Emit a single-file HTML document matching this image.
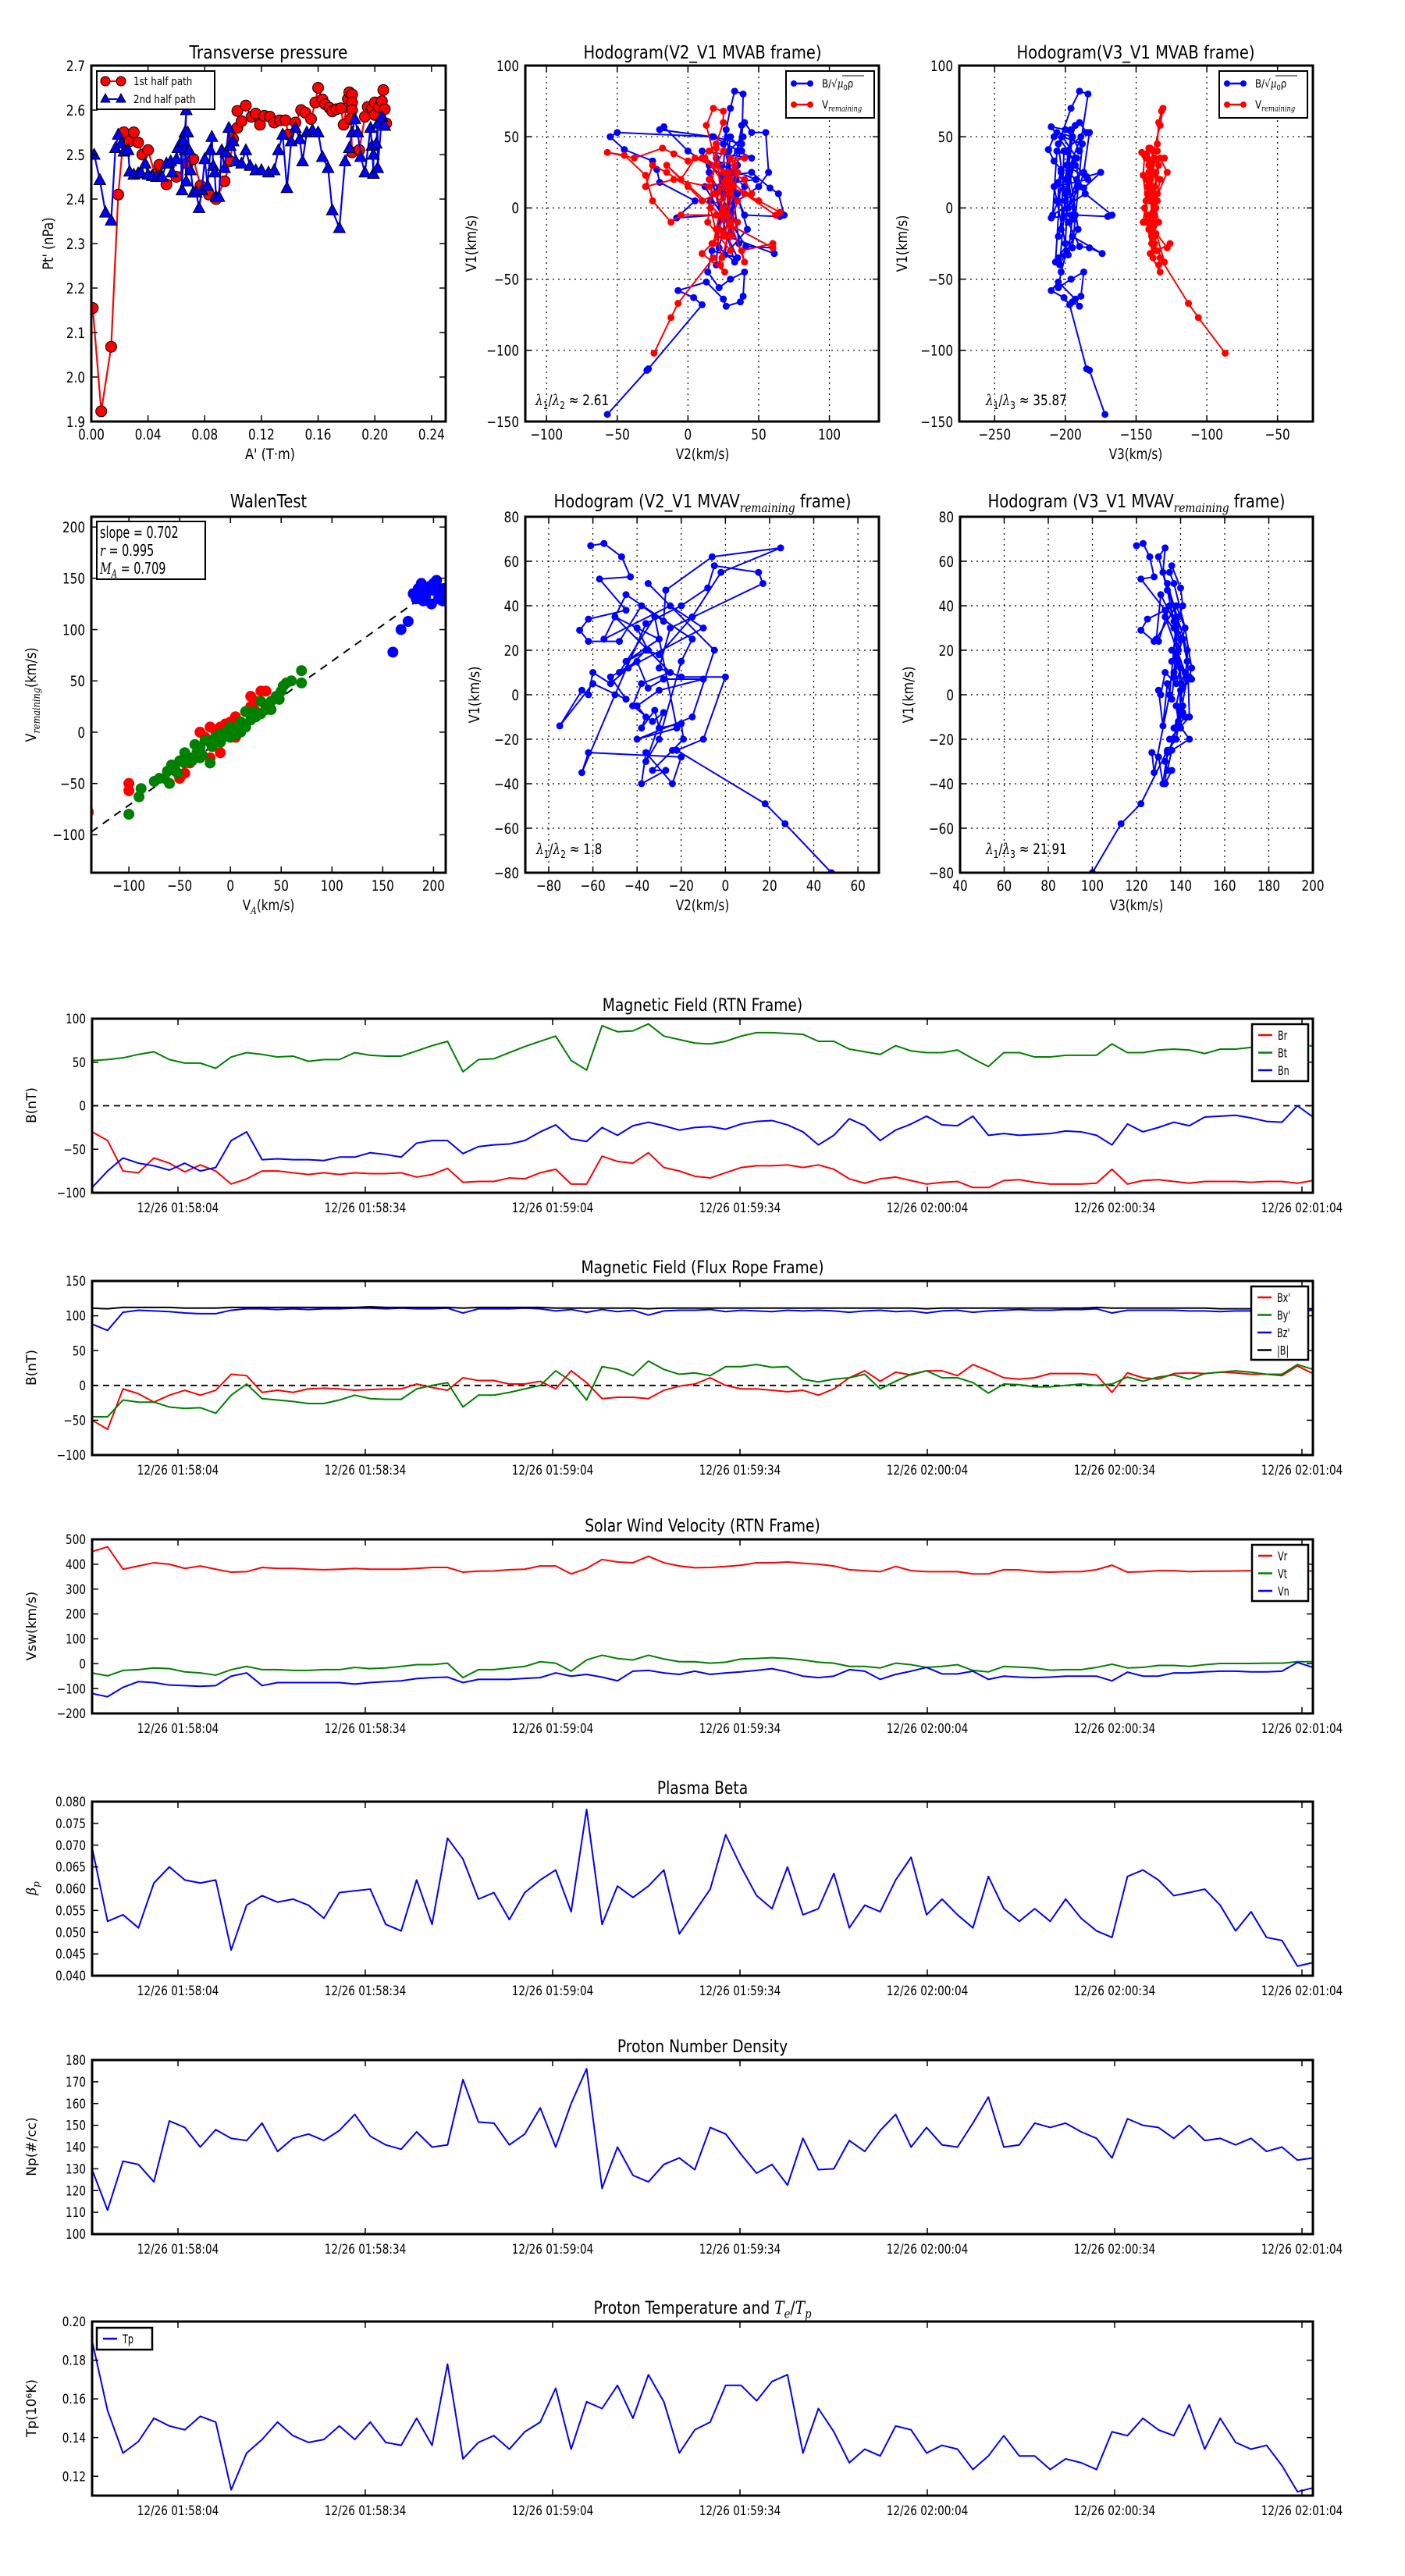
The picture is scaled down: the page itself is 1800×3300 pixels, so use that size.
<!DOCTYPE html>
<html>
<head>
<meta charset="utf-8">
<style>
html,body{margin:0;padding:0;background:#fff;}
svg{display:block;}
</style>
</head>
<body>
<svg id="fig" xmlns="http://www.w3.org/2000/svg" width="1800" height="3300" viewBox="0 0 1800 3300">
<rect x="0" y="0" width="1800" height="3300" fill="#fff"/>
</svg>
<script>
// ===== Transverse pressure data =====
const tpRedA = [0.001,0.007,0.014,0.019,0.023,0.027,0.030,0.033,0.036,0.040,0.045,0.048,0.053,0.060,0.068,0.072,0.077,0.083,0.088,0.094,0.098,0.100,0.103,0.106,0.103,0.109,0.113,0.116,0.119,0.122,0.126,0.129,0.133,0.137,0.139,0.144,0.148,0.151,0.155,0.158,0.160,0.163,0.165,0.168,0.170,0.173,0.176,0.178,0.181,0.182,0.184,0.184,0.184,0.183,0.184,0.189,0.193,0.195,0.198,0.200,0.200,0.203,0.205,0.206,0.207,0.208];
const tpRedP = [2.155,1.923,2.068,2.41,2.55,2.53,2.55,2.527,2.50,2.51,2.455,2.477,2.433,2.45,2.48,2.49,2.43,2.41,2.40,2.44,2.485,2.535,2.56,2.575,2.598,2.61,2.585,2.592,2.567,2.587,2.585,2.572,2.577,2.577,2.545,2.572,2.60,2.594,2.58,2.617,2.65,2.624,2.613,2.605,2.597,2.602,2.604,2.567,2.625,2.64,2.635,2.617,2.60,2.58,2.505,2.51,2.585,2.607,2.604,2.617,2.589,2.607,2.62,2.645,2.602,2.57];
const tpBlueA = [0.002,0.006,0.010,0.014,0.017,0.019,0.021,0.023,0.026,0.027,0.030,0.033,0.035,0.038,0.040,0.043,0.046,0.049,0.050,0.053,0.056,0.057,0.060,0.061,0.063,0.064,0.065,0.066,0.067,0.066,0.067,0.068,0.069,0.070,0.072,0.074,0.076,0.078,0.080,0.082,0.084,0.085,0.086,0.087,0.088,0.090,0.092,0.094,0.095,0.097,0.098,0.100,0.102,0.106,0.109,0.112,0.116,0.120,0.125,0.129,0.132,0.135,0.138,0.141,0.144,0.147,0.149,0.152,0.156,0.160,0.163,0.167,0.170,0.175,0.179,0.182,0.184,0.186,0.188,0.190,0.193,0.197,0.198,0.199,0.199,0.201,0.202,0.202,0.205,0.207];
const tpBlueP = [2.50,2.443,2.37,2.352,2.515,2.545,2.525,2.507,2.51,2.462,2.455,2.458,2.46,2.48,2.455,2.452,2.45,2.452,2.45,2.48,2.485,2.46,2.49,2.515,2.527,2.42,2.53,2.55,2.60,2.51,2.44,2.55,2.51,2.465,2.415,2.415,2.38,2.42,2.49,2.43,2.51,2.54,2.475,2.46,2.405,2.405,2.51,2.47,2.505,2.56,2.52,2.53,2.485,2.48,2.51,2.475,2.465,2.465,2.46,2.465,2.51,2.545,2.425,2.53,2.56,2.535,2.485,2.55,2.555,2.55,2.495,2.47,2.375,2.335,2.485,2.515,2.55,2.58,2.55,2.495,2.46,2.56,2.52,2.457,2.50,2.525,2.57,2.47,2.585,2.565];

// ===== MVAB hodogram data =====
const mvabBlueV1 = [-145,-114,-113,-68,-63,-58,-52,-64,-69,-66,-62,-45,-50,-56,-45,-30,-35,-20,-32,-28,-27,-10,-5,-7,5,18,27,33,41,50,53,50,55,57,40,30,22,25,14,10,-5,-6,-5,20,40,58,60,53,53,25,15,5,45,70,82,80,40,50,10,30,-20,35,15,0,25,-38,-28,45,50,35,40,-5,10,25,-15,-40,55,-25,15,20,30,-8,5,50,40,-15,20,-33];
const mvabBlueV2 = [-57,-29,-28,10,4,-7,13,25,27,37,39,40,30,22,14,17,35,28,61,60,41,30,20,-8,5,-20,-22,-25,-45,-55,-50,17,-20,-17,0,15,25,45,58,64,68,65,40,30,35,38,40,45,55,57,50,35,25,30,33,39,38,30,25,35,30,20,40,28,15,33,22,38,18,45,10,25,35,30,42,20,27,36,12,48,24,31,16,39,29,21,34,26];
const mvabBlueV3 = [-172,-183,-185,-197,-201,-210,-205,-193,-190,-195,-189,-187,-196,-205,-203,-199,-205,-195,-174,-183,-190,-198,-196,-210,-205,-205,-203,-208,-212,-208,-206,-195,-200,-210,-198,-193,-185,-175,-187,-186,-167,-170,-193,-200,-198,-193,-190,-185,-183,-187,-190,-200,-205,-196,-190,-184,-190,-195,-200,-195,-205,-193,-190,-198,-203,-207,-195,-188,-202,-192,-206,-209,-186,-197,-191,-204,-196,-200,-208,-184,-199,-194,-206,-189,-201,-203,-192,-198];
const mvabRedV1 = [-102,-77,-67,-35,-40,-45,-32,-25,-18,-10,-38,-30,-25,-28,-12,-5,-5,-10,5,23,37,39,35,42,38,33,35,40,45,60,68,70,58,30,25,15,10,5,-3,-5,10,20,10,5,15,25,30,15,20,15,0,-10,-20,-15,-5,25,35,35,30,40,20,10,-15,-25,25,35,5,-35,0,15,-20,42,-10,-30,20,10,30,-5,30,20,35,20,10];
const mvabRedV2 = [-24,-12,-7,18,23,26,10,17,25,30,40,38,60,60,30,20,-5,-12,-25,-30,-45,-57,-38,-18,-10,0,10,15,20,25,25,18,13,20,25,30,40,50,65,62,40,30,20,10,0,-15,-25,-30,-10,15,25,35,30,20,28,35,30,40,20,25,15,30,22,18,28,12,35,24,16,32,26,20,14,30,27,19,33,23,-15,-5,5,40,45];
const mvabRedV3 = [-87,-106,-113,-133,-134,-133,-140,-137,-136,-138,-130,-135,-126,-128,-140,-142,-142,-145,-143,-145,-144,-146,-142,-140,-143,-138,-137,-135,-135,-134,-132,-131,-133,-140,-138,-140,-142,-140,-138,-137,-141,-143,-140,-138,-142,-141,-139,-142,-140,-137,-136,-134,-139,-140,-141,-128,-133,-130,-140,-138,-142,-137,-141,-139,-136,-143,-135,-138,-144,-139,-137,-141,-143,-136,-140,-142,-134,-139,-141,-140,-142,-133,-135];

// ===== Walen test data =====
const walenGreenVA = [-100,-90,-88,-75,-70,-60,-62,-55,-50,-45,-40,-35,-30,-25,-20,-20,-15,-10,-5,0,5,10,15,20,22,25,30,35,40,45,50,52,55,60,70,70,-65,-45,0,15,30,-30,-10,10,40,-52,-38,-28,-18,-8,2,12,25,35,48,-58,-33];
const walenGreenV = [-80,-63,-55,-48,-45,-50,-38,-35,-28,-20,-25,-12,-15,-8,-30,-10,-5,-2,0,5,-2,10,5,12,20,15,18,25,30,35,40,45,48,50,60,48,-45,-30,-5,20,30,-25,-10,0,22,-40,-28,-22,-14,-6,3,8,18,22,32,-32,-20];
const walenRedVA = [-140,-100,-100,-50,-45,-40,-35,-30,-30,-25,-20,-15,-10,-5,0,5,10,15,20,25,30,35,-20,-10,5,-45,20,25];
const walenRedV = [-78,-50,-57,-45,-40,-30,-25,-20,0,-5,5,2,5,8,10,15,5,20,25,20,40,40,-25,-20,-5,-25,35,30];
const walenBlueVA = [160,168,175,180,185,190,195,200,205,210,188,192,198,203,207,183,196,201,209,186];
const walenBlueV = [78,100,108,135,140,128,138,145,130,140,145,132,125,148,135,130,142,138,128,137];
const walenSlope = 0.702;
const walenIntercept = -1;

// ===== MVAV hodogram data =====
const mvavV1 = [67,68,62,53,52,38,34,29,24,24,40,33,47,62,66,55,35,18,20,12,5,10,0,2,-14,5,-2,8,15,3,7,7,2,-5,-10,-15,-7,-15,-13,-20,-25,-34,-34,-40,-26,-40,-28,-26,-35,0,32,40,48,58,55,50,30,12,8,8,-20,-25,-49,-58,-80];
const mvavV2 = [-61,-55,-47,-43,-57,-45,-62,-66,-62,-48,-38,-28,-27,-6,25,-2,-15,-30,-36,-44,-52,-60,-62,-65,-75,-60,-45,-52,-40,-35,-28,-10,-30,-40,-36,-38,-32,-30,-20,-19,-24,-33,-27,-38,-36,-24,-20,-62,-65,-50,-36,-20,-8,-5,15,17,-25,-30,-20,0,-10,-22,18,27,48];
const mvavV3 = [120,123,126,128,122,133,125,122,128,130,135,137,134,130,133,132,138,138,136,140,138,133,131,130,132,134,136,137,139,141,143,145,140,141,142,138,140,137,139,144,136,134,136,133,134,132,130,127,128,135,138,141,140,136,135,137,142,145,144,143,138,134,122,113,100];
const mvavExtraV1 = [30,20,15,25,35,10,5,-5,-12,-8,-30,-20,15,25,45,25,40,30,10,35,-15,-20,-10,20,50];
const mvavExtraV2 = [-40,-35,-45,-30,-50,-25,-38,-42,-33,-28,-36,-30,-20,-15,-45,-55,-25,-10,-48,-32,-22,-40,-15,-5,-35];
const mvavExtraV3 = [137,139,136,140,133,142,140,138,139,141,133,137,143,141,131,129,138,142,137,139,140,135,144,143,134];

// ===== Time series data (uniform sampling across the plotted interval) =====
const tsStart = -13.75;   // seconds relative to 12/26 01:58:04
const tsEnd = 181.75;
const timeTicks = [0,30,60,90,120,150,180];
const timeTickLabels = ['12/26 01:58:04','12/26 01:58:34','12/26 01:59:04','12/26 01:59:34','12/26 02:00:04','12/26 02:00:34','12/26 02:01:04'];

const Br = [-30,-40,-75,-77,-60,-66,-76,-68,-75,-90,-84,-75,-75,-77,-79,-77,-79,-77,-78,-78,-77,-82,-79,-72,-88,-87,-87,-83,-84,-77,-73,-90,-90,-58,-64,-66,-54,-71,-75,-81,-83,-77,-71,-69,-69,-68,-71,-68,-73,-84,-89,-84,-82,-86,-90,-88,-87,-94,-94,-86,-85,-88,-90,-90,-90,-89,-73,-90,-86,-85,-87,-89,-87,-87,-87,-88,-87,-87,-89,-86];
const Bt = [52,53,55,59,62,53,49,49,43,56,61,59,56,57,51,53,53,61,58,57,57,63,69,74,39,53,54,61,68,74,80,52,41,92,85,86,94,80,76,72,71,74,80,84,84,83,82,74,74,65,62,59,69,63,61,61,64,54,45,61,61,56,56,58,58,58,71,61,61,64,65,64,60,65,65,67,66,66,68,69];
const Bn = [-94,-75,-60,-66,-69,-74,-66,-75,-71,-40,-30,-62,-61,-62,-62,-63,-59,-59,-54,-56,-59,-43,-40,-40,-55,-47,-45,-44,-40,-30,-22,-38,-41,-25,-34,-23,-19,-23,-28,-25,-24,-27,-21,-18,-17,-22,-30,-45,-34,-15,-23,-40,-28,-21,-12,-22,-23,-12,-34,-32,-34,-33,-32,-29,-30,-34,-45,-21,-30,-25,-19,-23,-13,-12,-11,-14,-18,-19,0,-13];

const Bxp = [-50,-63,-5,-12,-24,-14,-7,-14,-7,16,14,-10,-7,-10,-5,-4,-5,-7,-6,-5,-5,2,-3,-7,11,7,7,2,2,6,-5,21,4,-19,-17,-17,-19,-7,-1,2,11,0,-5,-5,-7,-9,-7,-14,-5,11,21,6,19,15,21,21,14,30,21,11,9,11,17,17,17,15,-10,18,11,9,17,18,17,19,18,16,16,14,28,17];
const Byp = [-45,-45,-21,-24,-24,-31,-33,-32,-40,-14,2,-19,-21,-23,-26,-26,-21,-14,-19,-20,-20,-5,0,4,-31,-14,-14,-10,-5,0,21,6,-21,27,23,14,35,23,16,18,14,27,27,30,26,27,9,5,9,11,16,-5,6,16,21,11,11,4,-11,2,1,-2,-2,0,2,0,2,12,6,12,15,9,17,19,21,19,16,16,30,23];
const Bzp = [88,79,105,108,107,106,104,103,103,108,110,110,109,110,109,110,110,111,111,110,111,110,110,111,104,110,110,110,111,110,107,109,105,109,106,108,101,107,108,108,109,106,108,107,106,108,107,108,107,105,107,108,106,107,104,107,108,105,107,108,109,108,108,109,109,110,104,108,108,108,108,107,107,106,107,107,107,107,107,108];
const Bmag = [111,110,112,112,112,112,111,111,111,112,112,112,112,112,112,112,112,112,113,112,112,112,112,112,111,112,112,112,112,112,111,111,111,111,111,111,110,111,111,111,111,111,111,111,111,111,111,111,111,111,111,111,111,111,110,111,111,111,111,111,111,111,111,111,111,112,111,111,111,111,111,111,111,110,110,110,110,110,110,110];

const Vr = [451,470,380,393,406,400,383,393,380,368,370,387,383,383,380,378,380,383,380,380,380,383,387,387,368,372,373,378,380,393,393,361,383,419,409,406,432,406,393,386,387,391,396,406,406,409,404,400,393,378,374,370,391,374,370,370,370,361,361,378,377,370,368,370,370,378,396,368,370,374,374,370,372,372,373,374,374,374,373,373];
const Vt = [-37,-49,-27,-24,-17,-20,-33,-37,-46,-24,-11,-24,-24,-27,-27,-24,-24,-15,-20,-17,-11,-4,-4,2,-56,-24,-24,-17,-11,8,2,-30,15,34,21,15,34,19,8,8,2,6,19,21,24,21,15,6,2,-11,-11,-17,2,-4,-15,-11,-4,-27,-33,-11,-14,-17,-26,-24,-24,-15,-2,-17,-15,-7,-7,-11,-4,1,1,1,2,2,8,8];
const Vn = [-120,-133,-95,-72,-76,-86,-88,-91,-88,-50,-37,-88,-76,-76,-76,-76,-76,-82,-76,-72,-69,-60,-56,-54,-76,-63,-63,-63,-59,-56,-37,-50,-43,-54,-69,-30,-27,-37,-43,-30,-43,-37,-33,-27,-20,-33,-50,-56,-50,-24,-30,-63,-43,-30,-15,-41,-41,-30,-63,-50,-54,-56,-54,-50,-50,-50,-69,-34,-50,-50,-37,-37,-33,-30,-30,-33,-33,-30,5,-15];

const beta = [0.0694,0.0525,0.054,0.051,0.0613,0.065,0.062,0.0613,0.062,0.0459,0.0562,0.0584,0.0569,0.0576,0.0562,0.0532,0.0591,0.0595,0.0599,0.0518,0.0503,0.062,0.0518,0.0716,0.0668,0.0576,0.0591,0.0529,0.0591,0.062,0.0643,0.0547,0.0782,0.0518,0.0606,0.058,0.0606,0.0643,0.0496,0.0547,0.0599,0.0724,0.065,0.0584,0.0554,0.065,0.054,0.0554,0.0635,0.051,0.0562,0.0547,0.062,0.0672,0.054,0.0576,0.054,0.051,0.0628,0.0554,0.0525,0.0554,0.0525,0.0576,0.0532,0.0503,0.0488,0.0628,0.0643,0.062,0.0584,0.0591,0.0599,0.0562,0.0503,0.0547,0.0488,0.0481,0.0422,0.043];
const Np = [129.6,111,133.5,132,124,152,149,140,148,144,143,151,138,144,146,143,147.6,155,145,141,139,147,140,141,171,151.5,151,141,146,158,140,160,176,121,140,127,124,132,135,129.6,149,146,136.6,128,132,122.5,144,129.6,130,143,138,147.6,155,140,149,141,140,151,163,140,141,151,149,151,147,144,135,153,150,149,144,150,143,144,141,144,138,140,134,135];
const Tp = [0.190,0.154,0.132,0.138,0.150,0.146,0.144,0.151,0.148,0.113,0.132,0.139,0.148,0.141,0.1375,0.139,0.146,0.139,0.148,0.1375,0.136,0.150,0.136,0.178,0.129,0.1375,0.141,0.134,0.143,0.148,0.1655,0.134,0.1585,0.155,0.167,0.150,0.1725,0.1585,0.132,0.144,0.148,0.167,0.167,0.159,0.169,0.1725,0.132,0.155,0.143,0.127,0.134,0.1305,0.146,0.144,0.132,0.136,0.134,0.1235,0.1305,0.141,0.1305,0.1305,0.1235,0.129,0.127,0.1235,0.143,0.141,0.150,0.144,0.141,0.157,0.134,0.150,0.1375,0.134,0.136,0.1255,0.112,0.114];

// ===== helpers =====
const NS = 'http://www.w3.org/2000/svg';
const svg = document.getElementById('fig');
const FONT = '"DejaVu Sans", "Liberation Sans", sans-serif';
let clipId = 0;

function mk(parent, tag, attrs, name) {
  const el = document.createElementNS(NS, tag);
  for (const k in attrs) el.setAttribute(k, attrs[k]);
  
  
  parent.appendChild(el);
  return el;
}

function text(parent, x, y, content, o) {
  const size = o.size || 18;
  const sx = o.sx || 0.85;
  const tr = 'translate(' + x + ',' + y + ')' + (o.rot ? ' rotate(' + o.rot + ')' : '') + ' scale(' + sx + ',1)';
  const el = mk(parent, 'text', {transform: tr, 'font-size': size, 'text-anchor': o.anchor || 'start', 'font-family': FONT, fill: '#000'}, o.name);
  if (typeof content === 'string') {
    el.textContent = content;
  } else {
    content.forEach(function(seg) {
      const ts = document.createElementNS(NS, 'tspan');
      ts.textContent = seg[0];
      const st = seg[1] || '';
      if (st.indexOf('it') >= 0) { ts.setAttribute('font-style', 'italic'); ts.setAttribute('font-family', '"DejaVu Serif","Liberation Serif",serif'); }
      if (st.indexOf('sub') >= 0) { ts.setAttribute('font-size', size * 0.7); ts.setAttribute('dy', size * 0.25); }
      if (st === 'up') { ts.setAttribute('dy', -size * 0.25); }
      if (st === 'itup') { ts.setAttribute('dy', -size * 0.25); }
      el.appendChild(ts);
    });
  }
  return el;
}

function axes(name, box, xlim, ylim, xt, xtl, yt, ytl, opt) {
  const g = mk(svg, 'g', {}, name);
  const L = box.x, T = box.y, W = box.w, H = box.h;
  const X = function(v) { return L + (v - xlim[0]) / (xlim[1] - xlim[0]) * W; };
  const Y = function(v) { return T + H - (v - ylim[0]) / (ylim[1] - ylim[0]) * H; };
  const fs = opt.tickSize || 19;
  const tsx = opt.tickSx || 0.8;
  if (opt.grid) {
    xt.forEach(function(v) {
      mk(g, 'line', {x1: X(v), x2: X(v), y1: T, y2: T + H, stroke: '#000', 'stroke-width': 1.2, 'stroke-dasharray': '2,5'}, 'x-grid-line');
    });
    yt.forEach(function(v) {
      mk(g, 'line', {x1: L, x2: L + W, y1: Y(v), y2: Y(v), stroke: '#000', 'stroke-width': 1.2, 'stroke-dasharray': '2,5'}, 'y-grid-line');
    });
  }
  const cid = 'clip' + (clipId++);
  const cp = mk(g, 'clipPath', {id: cid}, 'plot-clip');
  mk(cp, 'rect', {x: L, y: T, width: W, height: H}, 'plot-clip-rect');
  const data = mk(g, 'g', {'clip-path': 'url(#' + cid + ')'}, 'plot-area');
  xt.forEach(function(v, i) {
    mk(g, 'line', {x1: X(v), x2: X(v), y1: T + H, y2: T + H - 8, stroke: '#000', 'stroke-width': 1.5}, 'x-tick');
    mk(g, 'line', {x1: X(v), x2: X(v), y1: T, y2: T + 8, stroke: '#000', 'stroke-width': 1.5}, 'x-tick-top');
    text(g, X(v), T + H + (opt.xGap || 23), xtl[i], {size: fs, sx: tsx, anchor: 'middle', name: 'x-tick-label'});
  });
  yt.forEach(function(v, i) {
    mk(g, 'line', {x1: L, x2: L + 8, y1: Y(v), y2: Y(v), stroke: '#000', 'stroke-width': 1.5}, 'y-tick');
    mk(g, 'line', {x1: L + W, x2: L + W - 8, y1: Y(v), y2: Y(v), stroke: '#000', 'stroke-width': 1.5}, 'y-tick-right');
    text(g, L - 8, Y(v) + fs * 0.36, ytl[i], {size: fs, sx: tsx, anchor: 'end', name: 'y-tick-label'});
  });
  return {g: g, data: data, X: X, Y: Y, L: L, T: T, W: W, H: H};
}
function spine(ax) {
  mk(ax.g, 'rect', {x: ax.L, y: ax.T, width: ax.W, height: ax.H, fill: 'none', stroke: '#000', 'stroke-width': 3}, 'axes-frame');
}
function polyline(parent, xs, ys, ax, color, w, name) {
  let pts = '';
  for (let i = 0; i < xs.length; i++) pts += ax.X(xs[i]).toFixed(2) + ',' + ax.Y(ys[i]).toFixed(2) + ' ';
  return mk(parent, 'polyline', {points: pts, fill: 'none', stroke: color, 'stroke-width': w, 'stroke-linejoin': 'round'}, name);
}
function dots(parent, xs, ys, ax, color, r, name) {
  for (let i = 0; i < xs.length; i++) {
    mk(parent, 'circle', {cx: ax.X(xs[i]), cy: ax.Y(ys[i]), r: r, fill: color, stroke: 'none'}, name);
  }
}

// ===== Panel 1: Transverse pressure =====
(function() {
  const ax = axes('transverse-pressure-chart', {x: 117, y: 84, w: 454, h: 456}, [0, 0.25], [1.9, 2.7],
    [0,0.04,0.08,0.12,0.16,0.20,0.24], ['0.00','0.04','0.08','0.12','0.16','0.20','0.24'],
    [1.9,2.0,2.1,2.2,2.3,2.4,2.5,2.6,2.7], ['1.9','2.0','2.1','2.2','2.3','2.4','2.5','2.6','2.7'], {});
  polyline(ax.data, tpRedA, tpRedP, ax, '#ff0000', 2.2, 'first-half-line');
  for (let i = 0; i < tpRedA.length; i++) {
    mk(ax.data, 'circle', {cx: ax.X(tpRedA[i]), cy: ax.Y(tpRedP[i]), r: 7, fill: '#ff0000', stroke: '#000', 'stroke-width': 1}, 'first-half-marker');
  }
  polyline(ax.data, tpBlueA, tpBlueP, ax, '#0000ff', 2.2, 'second-half-line');
  for (let i = 0; i < tpBlueA.length; i++) {
    const cx = ax.X(tpBlueA[i]), cy = ax.Y(tpBlueP[i]);
    mk(ax.data, 'polygon', {points: cx + ',' + (cy - 8) + ' ' + (cx - 7.5) + ',' + (cy + 6) + ' ' + (cx + 7.5) + ',' + (cy + 6), fill: '#0000ff', stroke: '#000', 'stroke-width': 1}, 'second-half-marker');
  }
  spine(ax);
  text(svg, 344, 75, 'Transverse pressure', {size: 23, sx: 0.88, anchor: 'middle', name: 'transverse-pressure-title'});
  text(svg, 346, 588, "A' (T·m)", {size: 19, sx: 0.85, anchor: 'middle', name: 'x-axis-title'});
  text(svg, 68, 312, "Pt' (nPa)", {size: 19, sx: 0.85, anchor: 'middle', rot: -90, name: 'y-axis-title'});
  const lg = mk(svg, 'g', {}, 'legend');
  mk(lg, 'rect', {x: 124, y: 91, width: 151, height: 49, fill: '#fff', stroke: '#000', 'stroke-width': 2}, 'legend-box');
  mk(lg, 'line', {x1: 135, x2: 155, y1: 104, y2: 104, stroke: '#ff0000', 'stroke-width': 2}, 'legend-line');
  mk(lg, 'circle', {cx: 135, cy: 104, r: 6, fill: '#ff0000', stroke: '#000'}, 'legend-marker');
  mk(lg, 'circle', {cx: 155, cy: 104, r: 6, fill: '#ff0000', stroke: '#000'}, 'legend-marker');
  text(lg, 171, 109, '1st half path', {size: 14, sx: 0.85, name: 'legend-entry'});
  mk(lg, 'line', {x1: 135, x2: 155, y1: 127, y2: 127, stroke: '#0000ff', 'stroke-width': 2}, 'legend-line');
  mk(lg, 'polygon', {points: '135,120 129,131 141,131', fill: '#0000ff', stroke: '#000'}, 'legend-marker');
  mk(lg, 'polygon', {points: '155,120 149,131 161,131', fill: '#0000ff', stroke: '#000'}, 'legend-marker');
  text(lg, 171, 132, '2nd half path', {size: 14, sx: 0.85, name: 'legend-entry'});
})();

function hodoLegend(x0, name) {
  const lg = mk(svg, 'g', {}, name);
  mk(lg, 'rect', {x: x0, y: 91, width: 113, height: 60, fill: '#fff', stroke: '#000', 'stroke-width': 2}, 'legend-box');
  mk(lg, 'line', {x1: x0 + 10, x2: x0 + 31, y1: 107, y2: 107, stroke: '#0000ff', 'stroke-width': 2.5}, 'legend-line');
  mk(lg, 'circle', {cx: x0 + 10, cy: 107, r: 4, fill: '#0000ff'}, 'legend-marker');
  mk(lg, 'circle', {cx: x0 + 31, cy: 107, r: 4, fill: '#0000ff'}, 'legend-marker');
  text(lg, x0 + 46, 112, [['B/√', ''], ['μ', 'it'], ['0', 'sub'], ['ρ', 'up']], {size: 14, sx: 0.85, name: 'legend-entry'});
  mk(lg, 'line', {x1: x0 + 72, x2: x0 + 100, y1: 97, y2: 97, stroke: '#000', 'stroke-width': 1}, 'sqrt-bar');
  mk(lg, 'line', {x1: x0 + 10, x2: x0 + 31, y1: 134, y2: 134, stroke: '#ff0000', 'stroke-width': 2.5}, 'legend-line');
  mk(lg, 'circle', {cx: x0 + 10, cy: 134, r: 4, fill: '#ff0000'}, 'legend-marker');
  mk(lg, 'circle', {cx: x0 + 31, cy: 134, r: 4, fill: '#ff0000'}, 'legend-marker');
  text(lg, x0 + 46, 139, [['V', ''], ['remaining', 'itsub']], {size: 14, sx: 0.85, name: 'legend-entry'});
}

// ===== Panel 2: Hodogram V2_V1 MVAB =====
(function() {
  const ax = axes('hodogram-v2-v1-mvab', {x: 673, y: 84, w: 453, h: 456}, [-115, 135], [-150, 100],
    [-100,-50,0,50,100], ['−100','−50','0','50','100'],
    [-150,-100,-50,0,50,100], ['−150','−100','−50','0','50','100'], {grid: true});
  polyline(ax.data, mvabBlueV2, mvabBlueV1, ax, '#0000ff', 2, 'b-alfven-path');
  dots(ax.data, mvabBlueV2, mvabBlueV1, ax, '#0000ff', 4.5, 'b-alfven-point');
  polyline(ax.data, mvabRedV2, mvabRedV1, ax, '#ff0000', 2, 'v-remaining-path');
  dots(ax.data, mvabRedV2, mvabRedV1, ax, '#ff0000', 4.5, 'v-remaining-point');
  spine(ax);
  text(svg, 900, 75, 'Hodogram(V2_V1 MVAB frame)', {size: 23, sx: 0.85, anchor: 'middle', name: 'hodogram-mvab-v2-title'});
  text(svg, 900, 588, 'V2(km/s)', {size: 19, sx: 0.8, anchor: 'middle', name: 'x-axis-title'});
  text(svg, 610, 312, 'V1(km/s)', {size: 19, sx: 0.85, anchor: 'middle', rot: -90, name: 'y-axis-title'});
  text(svg, 686, 519, [['λ', 'it'], ['1', 'sub'], ['/', 'up'], ['λ', 'it'], ['2', 'sub'], [' ≈ 2.61', 'up']], {size: 19, sx: 0.8, name: 'eigenvalue-ratio'});
  hodoLegend(1007, 'legend');
})();

// ===== Panel 3: Hodogram V3_V1 MVAB =====
(function() {
  const ax = axes('hodogram-v3-v1-mvab', {x: 1229, y: 84, w: 453, h: 456}, [-275, -25], [-150, 100],
    [-250,-200,-150,-100,-50], ['−250','−200','−150','−100','−50'],
    [-150,-100,-50,0,50,100], ['−150','−100','−50','0','50','100'], {grid: true});
  polyline(ax.data, mvabBlueV3, mvabBlueV1, ax, '#0000ff', 2, 'b-alfven-path');
  dots(ax.data, mvabBlueV3, mvabBlueV1, ax, '#0000ff', 4.5, 'b-alfven-point');
  polyline(ax.data, mvabRedV3, mvabRedV1, ax, '#ff0000', 2, 'v-remaining-path');
  dots(ax.data, mvabRedV3, mvabRedV1, ax, '#ff0000', 4.5, 'v-remaining-point');
  spine(ax);
  text(svg, 1455, 75, 'Hodogram(V3_V1 MVAB frame)', {size: 23, sx: 0.85, anchor: 'middle', name: 'hodogram-mvab-v3-title'});
  text(svg, 1455, 588, 'V3(km/s)', {size: 19, sx: 0.8, anchor: 'middle', name: 'x-axis-title'});
  text(svg, 1162, 312, 'V1(km/s)', {size: 19, sx: 0.85, anchor: 'middle', rot: -90, name: 'y-axis-title'});
  text(svg, 1263, 519, [['λ', 'it'], ['1', 'sub'], ['/', 'up'], ['λ', 'it'], ['3', 'sub'], [' ≈ 35.87', 'up']], {size: 19, sx: 0.8, name: 'eigenvalue-ratio'});
  hodoLegend(1562, 'legend');
})();

// ===== Panel 4: Walen test =====
(function() {
  const ax = axes('walen-test-chart', {x: 117, y: 662, w: 454, h: 456}, [-137, 212], [-137, 210],
    [-100,-50,0,50,100,150,200], ['−100','−50','0','50','100','150','200'],
    [-100,-50,0,50,100,150,200], ['−100','−50','0','50','100','150','200'], {});
  const xa = -137, xb = 212;
  mk(ax.data, 'line', {x1: ax.X(xa), y1: ax.Y(walenSlope * xa + walenIntercept), x2: ax.X(xb), y2: ax.Y(walenSlope * xb + walenIntercept), stroke: '#000', 'stroke-width': 2, 'stroke-dasharray': '10,8'}, 'fit-line');
  dots(ax.data, walenRedVA, walenRedV, ax, '#ff0000', 7, 'walen-red-point');
  dots(ax.data, walenGreenVA, walenGreenV, ax, '#008000', 7, 'walen-green-point');
  dots(ax.data, walenBlueVA, walenBlueV, ax, '#0000ff', 7, 'walen-blue-point');
  spine(ax);
  const box = mk(svg, 'g', {}, 'fit-statistics-box');
  mk(box, 'rect', {x: 124, y: 668, width: 139, height: 74, fill: '#fff', stroke: '#000', 'stroke-width': 2}, 'stats-frame');
  text(box, 128, 689, 'slope = 0.702', {size: 20, sx: 0.72, name: 'slope-text'});
  text(box, 128, 712, [['r', 'it'], [' = 0.995', '']], {size: 20, sx: 0.72, name: 'r-text'});
  text(box, 128, 735, [['M', 'it'], ['A', 'itsub'], [' = 0.709', 'up']], {size: 20, sx: 0.72, name: 'ma-text'});
  text(svg, 344, 650, 'WalenTest', {size: 23, sx: 0.85, anchor: 'middle', name: 'walen-test-title'});
  text(svg, 344, 1166, [['V', ''], ['A', 'itsub'], ['(km/s)', 'up']], {size: 19, sx: 0.8, anchor: 'middle', name: 'x-axis-title'});
  text(svg, 46, 890, [['V', ''], ['remaining', 'itsub'], ['(km/s)', 'up']], {size: 19, sx: 0.85, anchor: 'middle', rot: -90, name: 'y-axis-title'});
})();

// ===== Panel 5 & 6: MVAV hodograms =====
(function() {
  const ax = axes('hodogram-v2-v1-mvav', {x: 673, y: 662, w: 453, h: 456}, [-90.6, 69.5], [-80, 80],
    [-80,-60,-40,-20,0,20,40,60], ['−80','−60','−40','−20','0','20','40','60'],
    [-80,-60,-40,-20,0,20,40,60,80], ['−80','−60','−40','−20','0','20','40','60','80'], {grid: true});
  polyline(ax.data, mvavV2, mvavV1, ax, '#0000ff', 2, 'velocity-path');
  polyline(ax.data, mvavExtraV2, mvavExtraV1, ax, '#0000ff', 2, 'velocity-path');
  dots(ax.data, mvavV2, mvavV1, ax, '#0000ff', 4.5, 'velocity-point');
  dots(ax.data, mvavExtraV2, mvavExtraV1, ax, '#0000ff', 4.5, 'velocity-point');
  spine(ax);
  text(svg, 900, 650, [['Hodogram (V2_V1 MVAV', ''], ['remaining', 'itsub'], [' frame)', 'up']], {size: 23, sx: 0.85, anchor: 'middle', name: 'hodogram-mvav-v2-title'});
  text(svg, 900, 1166, 'V2(km/s)', {size: 19, sx: 0.8, anchor: 'middle', name: 'x-axis-title'});
  text(svg, 614, 890, 'V1(km/s)', {size: 19, sx: 0.85, anchor: 'middle', rot: -90, name: 'y-axis-title'});
  text(svg, 687, 1094, [['λ', 'it'], ['1', 'sub'], ['/', 'up'], ['λ', 'it'], ['2', 'sub'], [' ≈ 1.8', 'up']], {size: 19, sx: 0.8, name: 'eigenvalue-ratio'});
})();
(function() {
  const ax = axes('hodogram-v3-v1-mvav', {x: 1230, y: 662, w: 452, h: 456}, [40, 200], [-80, 80],
    [40,60,80,100,120,140,160,180,200], ['40','60','80','100','120','140','160','180','200'],
    [-80,-60,-40,-20,0,20,40,60,80], ['−80','−60','−40','−20','0','20','40','60','80'], {grid: true});
  polyline(ax.data, mvavV3, mvavV1, ax, '#0000ff', 2, 'velocity-path');
  polyline(ax.data, mvavExtraV3, mvavExtraV1, ax, '#0000ff', 2, 'velocity-path');
  dots(ax.data, mvavV3, mvavV1, ax, '#0000ff', 4.5, 'velocity-point');
  dots(ax.data, mvavExtraV3, mvavExtraV1, ax, '#0000ff', 4.5, 'velocity-point');
  spine(ax);
  text(svg, 1456, 650, [['Hodogram (V3_V1 MVAV', ''], ['remaining', 'itsub'], [' frame)', 'up']], {size: 23, sx: 0.85, anchor: 'middle', name: 'hodogram-mvav-v3-title'});
  text(svg, 1456, 1166, 'V3(km/s)', {size: 19, sx: 0.8, anchor: 'middle', name: 'x-axis-title'});
  text(svg, 1170, 890, 'V1(km/s)', {size: 19, sx: 0.85, anchor: 'middle', rot: -90, name: 'y-axis-title'});
  text(svg, 1263, 1094, [['λ', 'it'], ['1', 'sub'], ['/', 'up'], ['λ', 'it'], ['3', 'sub'], [' ≈ 21.91', 'up']], {size: 19, sx: 0.8, name: 'eigenvalue-ratio'});
})();

// ===== Time series panels =====
function timeSeries(cfg) {
  const ax = axes(cfg.name, {x: 118, y: cfg.top, w: 1564, h: 223}, [tsStart, tsEnd], cfg.ylim,
    timeTicks, timeTickLabels, cfg.yticks, cfg.ylabels, {xGap: 25, tickSize: 17, tickSx: 0.8});
  if (cfg.zero) {
    mk(ax.data, 'line', {x1: ax.L, x2: ax.L + ax.W, y1: ax.Y(0), y2: ax.Y(0), stroke: '#000', 'stroke-width': 1.8, 'stroke-dasharray': '8,6'}, 'zero-line');
  }
  cfg.series.forEach(function(s) {
    const n = s.data.length;
    const ts = [];
    for (let i = 0; i < n; i++) ts.push(tsStart + i * (tsEnd - tsStart) / (n - 1));
    polyline(ax.data, ts, s.data, ax, s.color, 2, s.name);
  });
  spine(ax);
  text(svg, 900, cfg.top - 10, cfg.title, {size: 22, sx: 0.85, anchor: 'middle', name: cfg.name + '-title'});
  text(svg, 46, cfg.top + 111, cfg.ylabel, {size: 17, sx: 1.0, anchor: 'middle', rot: -90, name: 'y-axis-title'});
  if (cfg.legend) {
    const lg = mk(svg, 'g', {}, 'legend');
    const L = cfg.legend;
    mk(lg, 'rect', {x: L.x, y: L.y, width: L.w, height: L.h, fill: '#fff', stroke: '#000', 'stroke-width': 2.5}, 'legend-box');
    cfg.series.forEach(function(s, i) {
      const yy = L.y + 14 + i * 22.5;
      mk(lg, 'line', {x1: L.x + 8, x2: L.x + 26, y1: yy, y2: yy, stroke: s.color, 'stroke-width': 2.5}, 'legend-line');
      text(lg, L.x + 33, yy + 6, s.label, {size: 16, sx: 0.7, name: 'legend-entry'});
    });
  }
}

timeSeries({name: 'magnetic-field-rtn', top: 1305, title: 'Magnetic Field (RTN Frame)', ylim: [-100, 100],
  yticks: [-100,-50,0,50,100], ylabels: ['−100','−50','0','50','100'], zero: true, ylabel: 'B(nT)',
  series: [{data: Br, color: '#ff0000', label: 'Br', name: 'br-line'}, {data: Bt, color: '#008000', label: 'Bt', name: 'bt-line'}, {data: Bn, color: '#0000ff', label: 'Bn', name: 'bn-line'}],
  legend: {x: 1604, y: 1312, w: 72, h: 73}});

timeSeries({name: 'magnetic-field-flux-rope', top: 1641, title: 'Magnetic Field (Flux Rope Frame)', ylim: [-100, 150],
  yticks: [-100,-50,0,50,100,150], ylabels: ['−100','−50','0','50','100','150'], zero: true, ylabel: 'B(nT)',
  series: [{data: Bxp, color: '#ff0000', label: "Bx'", name: 'bx-line'}, {data: Byp, color: '#008000', label: "By'", name: 'by-line'}, {data: Bzp, color: '#0000ff', label: "Bz'", name: 'bz-line'}, {data: Bmag, color: '#000000', label: '|B|', name: 'bmag-line'}],
  legend: {x: 1603, y: 1648, w: 73, h: 94}});

timeSeries({name: 'solar-wind-velocity', top: 1972, title: 'Solar Wind Velocity (RTN Frame)', ylim: [-200, 500],
  yticks: [-200,-100,0,100,200,300,400,500], ylabels: ['−200','−100','0','100','200','300','400','500'], ylabel: 'Vsw(km/s)',
  series: [{data: Vr, color: '#ff0000', label: 'Vr', name: 'vr-line'}, {data: Vt, color: '#008000', label: 'Vt', name: 'vt-line'}, {data: Vn, color: '#0000ff', label: 'Vn', name: 'vn-line'}],
  legend: {x: 1604, y: 1979, w: 72, h: 72}});

timeSeries({name: 'plasma-beta', top: 2308, title: 'Plasma Beta', ylim: [0.04, 0.08],
  yticks: [0.040,0.045,0.050,0.055,0.060,0.065,0.070,0.075,0.080], ylabels: ['0.040','0.045','0.050','0.055','0.060','0.065','0.070','0.075','0.080'], ylabel: [['β', 'it'], ['p', 'itsub']],
  series: [{data: beta, color: '#0000ff', label: 'beta', name: 'beta-line'}]});

timeSeries({name: 'proton-density', top: 2639, title: 'Proton Number Density', ylim: [100, 180],
  yticks: [100,110,120,130,140,150,160,170,180], ylabels: ['100','110','120','130','140','150','160','170','180'], ylabel: 'Np(#/cc)',
  series: [{data: Np, color: '#0000ff', label: 'Np', name: 'np-line'}]});

timeSeries({name: 'proton-temperature', top: 2974, title: [['Proton Temperature and ', ''], ['T', 'it'], ['e', 'itsub'], ['/', 'up'], ['T', 'it'], ['p', 'itsub']], ylim: [0.11, 0.20],
  yticks: [0.12,0.14,0.16,0.18,0.20], ylabels: ['0.12','0.14','0.16','0.18','0.20'], ylabel: 'Tp(10⁶K)',
  series: [{data: Tp, color: '#0000ff', label: 'Tp', name: 'tp-line'}],
  legend: {x: 124, y: 2982, w: 71, h: 28}});
</script>
</body>
</html>
